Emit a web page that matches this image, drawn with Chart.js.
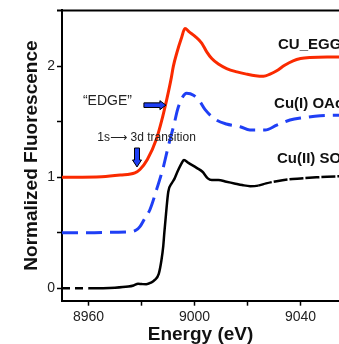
<!DOCTYPE html>
<html>
<head>
<meta charset="utf-8">
<script src="https://cdn.jsdelivr.net/npm/chart.js@4"></script>
<style>
  html, body { margin: 0; padding: 0; background: #fff; }
  #wrap { position: relative; width: 339px; height: 344px; }
</style>
</head>
<body>
<div id="wrap"><canvas id="chart"></canvas></div>
<script>
// CU_EGG (red, solid)
const eggEnergy = [8950, 8965, 8972, 8977.5, 8979.4, 8982.2, 8985.7, 8987.6, 8989.5, 8991.1, 8992, 8993.3, 8995, 8996.4, 8998, 9000.2, 9002.7, 9004.6, 9006.5, 9009, 9012.1, 9016, 9019.6, 9023, 9026, 9028.5, 9031, 9034, 9037.2, 9040, 9043.6, 9050, 9055];
const eggValues = [1.0, 1.005, 1.02, 1.04, 1.07, 1.16, 1.35, 1.51, 1.70, 1.88, 2.0, 2.12, 2.25, 2.34, 2.31, 2.27, 2.21, 2.13, 2.07, 2.02, 1.98, 1.95, 1.93, 1.915, 1.91, 1.93, 1.96, 2.01, 2.05, 2.07, 2.08, 2.085, 2.085];

// Cu(I) OAc (blue, dashed)
const oacEnergy = [8950, 8960, 8970, 8976, 8978, 8979.4, 8981, 8983.2, 8985.7, 8988.2, 8990.1, 8992.4, 8993.6, 8995.2, 8997, 8999.6, 9002.1, 9004, 9008, 9012, 9017.2, 9020.9, 9026.6, 9031, 9036, 9041, 9047.4, 9055];
const oacValues = [0.5, 0.5, 0.505, 0.51, 0.525, 0.555, 0.62, 0.71, 0.89, 1.09, 1.28, 1.49, 1.61, 1.71, 1.757, 1.74, 1.68, 1.61, 1.52, 1.48, 1.456, 1.426, 1.426, 1.47, 1.516, 1.537, 1.555, 1.56];

// Cu(II) SO4 (black)
const so4Energy = [8950, 8960, 8970, 8975, 8977, 8978.7, 8980, 8981.8, 8983.5, 8985, 8986.5, 8987.5, 8988.2, 8988.6, 8989.2, 8990.1, 8991.4, 8992.5, 8993.3, 8995, 8996, 8997.7, 9000.8, 9003, 9005, 9006.5, 9009, 9012, 9015, 9018, 9021, 9024, 9027, 9031, 9035, 9040, 9046, 9050, 9055];
const so4Values = [0.0, 0.0, 0.005, 0.015, 0.025, 0.04, 0.038, 0.036, 0.05, 0.075, 0.13, 0.25, 0.38, 0.5, 0.66, 0.87, 0.946, 0.99, 1.036, 1.12, 1.156, 1.13, 1.085, 1.05, 0.99, 0.975, 0.975, 0.96, 0.945, 0.93, 0.92, 0.925, 0.945, 0.965, 0.98, 0.99, 1.0, 1.005, 1.01];

const xTicks = [8960, 8980, 9000, 9020, 9040];
const xLabels = [8960, 9000, 9040];
const yTicks = [0, 0.5, 1, 1.5, 2];
const yLabels = [0, 1, 2];

const RED = '#fa2a00';
const BLUE = '#1f3ff5';
const FONT = '"Liberation Sans", Arial, sans-serif';

const toPoints = ( xs, ys ) => xs.map( ( x, i ) => ( { x: x, y: ys[ i ] } ) );

// annotation texts, placed in data units
const seriesNotes = [
    { text: 'CU_EGG', x: 9031.5, y: 2.19 },
    { text: 'Cu(I) OAc', x: 9030, y: 1.66 },
    { text: 'Cu(II) SO\u2084', x: 9031.1, y: 1.165 }
];

const annotate = {
    id: 'annotate',
    afterDraw ( chart ) {
        const { ctx, chartArea, scales: { x, y } } = chart;
        ctx.save();

        // top frame line
        ctx.strokeStyle = '#000';
        ctx.lineWidth = 2;
        ctx.beginPath();
        ctx.moveTo( chartArea.left - 5, chartArea.top );
        ctx.lineTo( chartArea.right, chartArea.top );
        ctx.stroke();

        ctx.textBaseline = 'middle';
        ctx.textAlign = 'left';
        ctx.fillStyle = '#111';
        ctx.font = 'bold 15px ' + FONT;
        seriesNotes.forEach( n => ctx.fillText( n.text, x.getPixelForValue( n.x ), y.getPixelForValue( n.y ) ) );

        ctx.fillStyle = '#222';
        ctx.font = '14px ' + FONT;
        ctx.fillText( '\u201CEDGE\u201D', x.getPixelForValue( 8957.9 ), y.getPixelForValue( 1.69 ) );
        ctx.font = '12px ' + FONT + ', "DejaVu Sans"';
        ctx.fillText( '1s\u27F6 3d transition', x.getPixelForValue( 8963.3 ), y.getPixelForValue( 1.355 ) );

        // right arrow pointing at the edge
        const ax0 = x.getPixelForValue( 8980.9 ), ax1 = x.getPixelForValue( 8989.2 ), ay = y.getPixelForValue( 1.65 );
        ctx.beginPath();
        ctx.moveTo( ax0, ay - 2.3 );
        ctx.lineTo( ax1 - 6, ay - 2.3 );
        ctx.lineTo( ax1 - 6, ay - 4.5 );
        ctx.lineTo( ax1, ay );
        ctx.lineTo( ax1 - 6, ay + 4.5 );
        ctx.lineTo( ax1 - 6, ay + 2.3 );
        ctx.lineTo( ax0, ay + 2.3 );
        ctx.closePath();
        ctx.fillStyle = BLUE;
        ctx.fill();
        ctx.strokeStyle = '#000';
        ctx.lineWidth = 1;
        ctx.stroke();

        // down arrow pointing at the pre-edge
        const bx = x.getPixelForValue( 8978.3 ), by0 = y.getPixelForValue( 1.264 ), by1 = y.getPixelForValue( 1.093 );
        ctx.beginPath();
        ctx.moveTo( bx - 2.5, by0 );
        ctx.lineTo( bx + 2.5, by0 );
        ctx.lineTo( bx + 2.5, by1 - 7 );
        ctx.lineTo( bx + 4.5, by1 - 7 );
        ctx.lineTo( bx, by1 );
        ctx.lineTo( bx - 4.5, by1 - 7 );
        ctx.lineTo( bx - 2.5, by1 - 7 );
        ctx.closePath();
        ctx.fillStyle = BLUE;
        ctx.fill();
        ctx.stroke();

        ctx.restore();
    }
};

new Chart( document.getElementById( 'chart' ), {
    type: 'line',
    data: {
        datasets: [ {
            data: toPoints( eggEnergy, eggValues ),
            borderColor: RED,
            borderWidth: 3,
            pointRadius: 0,
            cubicInterpolationMode: 'monotone'
        }, {
            data: toPoints( oacEnergy, oacValues ),
            borderColor: BLUE,
            borderWidth: 3,
            borderDash: [ 16, 8 ],
            pointRadius: 0,
            cubicInterpolationMode: 'monotone'
        }, {
            data: toPoints( so4Energy, so4Values ),
            borderColor: '#000',
            borderWidth: 2.5,
            pointRadius: 0,
            cubicInterpolationMode: 'monotone',
            segment: {
                borderDash ( c ) {
                    const e = c.p0.parsed.x;
                    if ( e < 8958 ) return [ 8, 5 ];
                    if ( e >= 9022 ) return [ 14, 2 ];
                    return undefined;
                }
            }
        } ]
    },
    options: {
        responsive: true,
        maintainAspectRatio: false,
        animation: false,
        layout: { padding: { top: 10, right: 0, bottom: 0, left: 0 } },
        plugins: {
            legend: { display: false },
            tooltip: { enabled: false }
        },
        scales: {
            x: {
                type: 'linear',
                min: 8950,
                max: 9054.5,
                afterBuildTicks ( s ) { s.ticks = xTicks.map( v => ( { value: v } ) ); },
                afterFit ( s ) { s.height = 43.3; },
                ticks: {
                    autoSkip: false,
                    maxRotation: 0,
                    padding: 3,
                    color: '#222',
                    font: { family: FONT, size: 14 },
                    callback: v => xLabels.includes( v ) ? String( v ) : ''
                },
                grid: { drawOnChartArea: false, tickLength: 5, color: '#000', tickWidth: 1.5 },
                border: { color: '#000', width: 2 },
                title: {
                    display: true,
                    text: 'Energy (eV)',
                    color: '#111',
                    font: { family: FONT, size: 19, weight: 'bold', lineHeight: 1 },
                    padding: { top: 0, bottom: 0 }
                }
            },
            y: {
                min: -0.112,
                max: 2.504,
                afterBuildTicks ( s ) { s.ticks = yTicks.map( v => ( { value: v } ) ); },
                afterFit ( s ) { s.width = 62; },
                ticks: {
                    autoSkip: false,
                    padding: 2,
                    color: '#222',
                    font: { family: FONT, size: 14 },
                    callback: v => yLabels.includes( v ) ? String( v ) : ''
                },
                grid: { drawOnChartArea: false, tickLength: 5, color: '#000', tickWidth: 1.5 },
                border: { color: '#000', width: 2 },
                title: {
                    display: true,
                    text: 'Normalized Fluorescence',
                    color: '#111',
                    font: { family: FONT, size: 19, weight: 'bold', lineHeight: 1 },
                    padding: { top: 22, bottom: 0 }
                }
            }
        }
    },
    plugins: [ annotate ]
} );
</script>
</body>
</html>
